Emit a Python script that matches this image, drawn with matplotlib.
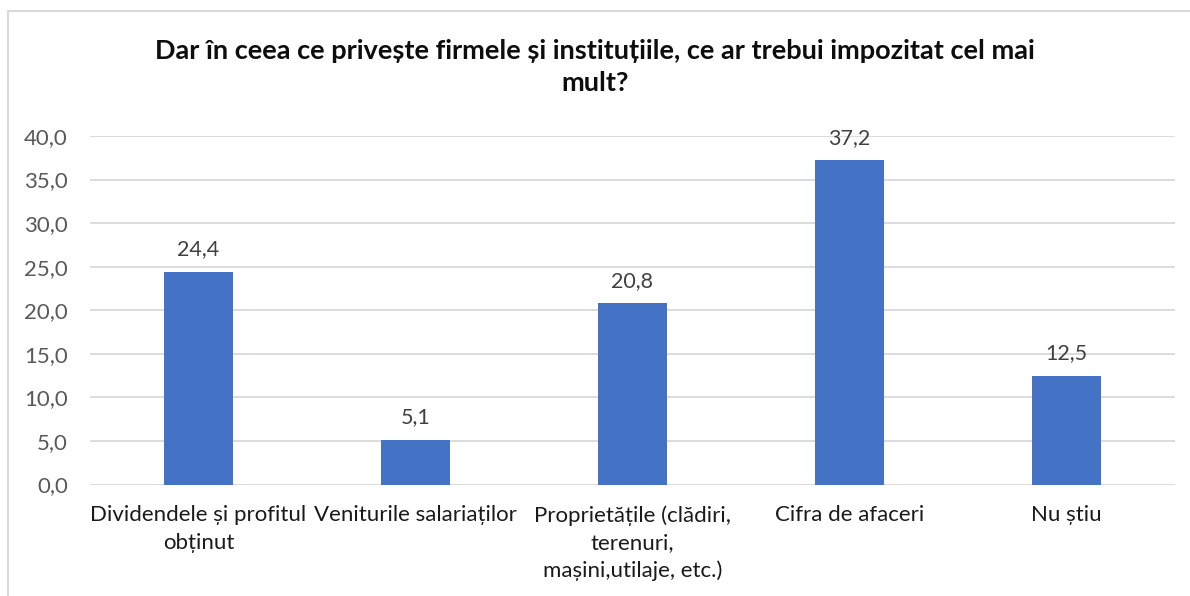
import matplotlib
matplotlib.use('Agg')
import matplotlib.pyplot as plt
import numpy as np

categories = [
    'Dividendele și profitul\nobținut',
    'Veniturile salariaților',
    'Proprietățile (clădiri,\nterenuri,\nmașini,utilaje, etc.)',
    'Cifra de afaceri',
    'Nu știu',
]
values = [24.4, 5.1, 20.8, 37.2, 12.5]
yticks = [0, 5, 10, 15, 20, 25, 30, 35, 40]
title = 'Dar în ceea ce privește firmele și instituțiile, ce ar trebui impozitat cel mai\nmult?'

plt.rcParams['font.family'] = ['Lato', 'DejaVu Sans']

fig = plt.figure(figsize=(11.9, 5.96), dpi=100)
ax = fig.add_axes([90 / 1190, 1 - 484.5 / 596, 1085 / 1190, 348.5 / 596])

x = np.arange(len(categories))
ax.bar(x, values, width=0.32, color='#4472C4', zorder=3)

for xi, v in zip(x, values):
    ax.annotate(f'{v:.1f}'.replace('.', ','), (xi, v), xytext=(0, 9),
                textcoords='offset points', ha='center', va='bottom',
                fontsize=15.5, color='#404040')

ax.set_xlim(-0.5, len(categories) - 0.5)
ax.set_ylim(0, 40)
ax.set_yticks(yticks)
ax.set_yticklabels([f'{t:.1f}'.replace('.', ',') for t in yticks],
                   fontsize=16, color='#595959')
ax.set_xticks(x)
ax.set_xticklabels(categories, fontsize=16, color='#1a1a1a', linespacing=1.45)
ax.tick_params(axis='both', length=0)
ax.tick_params(axis='y', pad=16)
ax.tick_params(axis='x', pad=15)
ax.grid(axis='y', color='#d9d9d9', linewidth=1.3, zorder=0)
for s in ax.spines.values():
    s.set_visible(False)

fig.text(0.5, 1 - 67 / 596, title, ha='center', va='center', fontsize=19.5,
         fontweight='bold', color='#0d0d0d', linespacing=1.4)

# chart frame (top and left edges visible)
fig.add_artist(plt.Line2D([8 / 1190, 1], [1 - 11 / 596] * 2,
                          transform=fig.transFigure, color='#d9d9d9', lw=1.5))
fig.add_artist(plt.Line2D([8 / 1190] * 2, [0, 1 - 11 / 596],
                          transform=fig.transFigure, color='#d9d9d9', lw=1.5))

fig.savefig('out.png', dpi=100)
